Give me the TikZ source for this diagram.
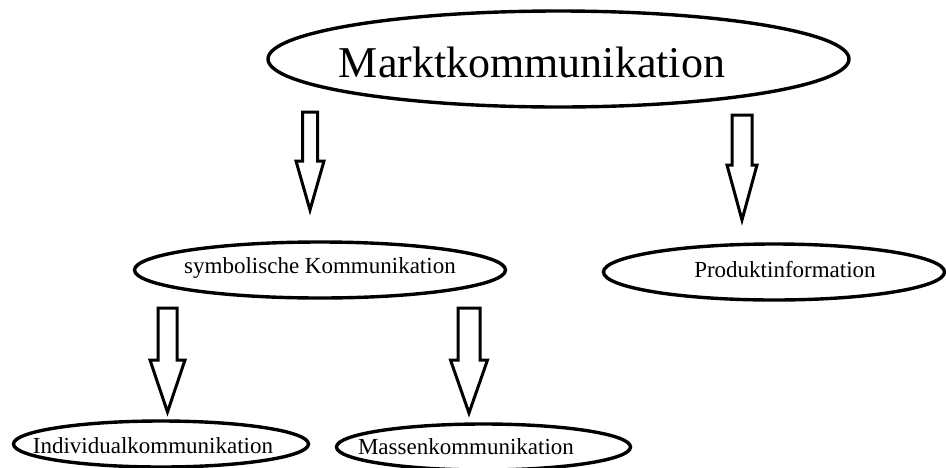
\documentclass[tikz,border=0pt]{standalone}
\usepackage{fontspec}
\setmainfont{Liberation Serif}
\usetikzlibrary{shapes.geometric}
\tikzset{
  oval/.style={draw=black, line width=3.4pt, ellipse, inner sep=0pt},
  lbl/.style={inner sep=0pt, font=\fontsize{23}{23}\selectfont, text=black},
  bigl/.style={inner sep=0pt, font=\fontsize{44}{44}\selectfont, text=black},
  blockarrow/.style={draw=black, line width=3pt, fill=white, line join=miter}
}
% #1 centre x, #2 shaft half width, #3 top y, #4 head y, #5 wing half width, #6 tip y
\newcommand\downblock[6]{%
  \draw[blockarrow] (#1-#2,#3) -- (#1+#2,#3) -- (#1+#2,#4) -- (#1+#5,#4)
    -- (#1,#6) -- (#1-#5,#4) -- (#1-#2,#4) -- cycle;}
\begin{document}
\begin{tikzpicture}[x=1pt,y=-1pt]
\useasboundingbox[fill=white] (0,0) rectangle (946,467);

% ellipses
\node[oval, minimum width=581pt, minimum height=96pt] (top) at (558.5,59) {};
\node[bigl, anchor=base] (toptxt) at (532,77) {Marktkommunikation};

\node[oval, minimum width=371pt, minimum height=56pt] (sym) at (320,270) {};
\node[lbl] (symtxt) at (320,268) {symbolische Kommunikation};

\node[oval, minimum width=341pt, minimum height=56pt] (prod) at (774,272) {};
\node[lbl] (prodtxt) at (785,270) {Produktinformation};

\node[oval, minimum width=295pt, minimum height=46pt] (ind) at (161,444) {};
\node[lbl] (indtxt) at (153,446) {Individualkommunikation};

\node[oval, minimum width=294pt, minimum height=46pt] (mas) at (483.5,447) {};
\node[lbl] (mastxt) at (466,447) {Massenkommunikation};

% block arrows
\downblock{310}{7.5}{112}{161}{14}{210}
\downblock{742}{10}{115}{165}{15}{220}
\downblock{167.5}{9.5}{308}{360}{17.5}{412}
\downblock{469}{11}{308}{360}{18.5}{413}
\end{tikzpicture}
\end{document}
